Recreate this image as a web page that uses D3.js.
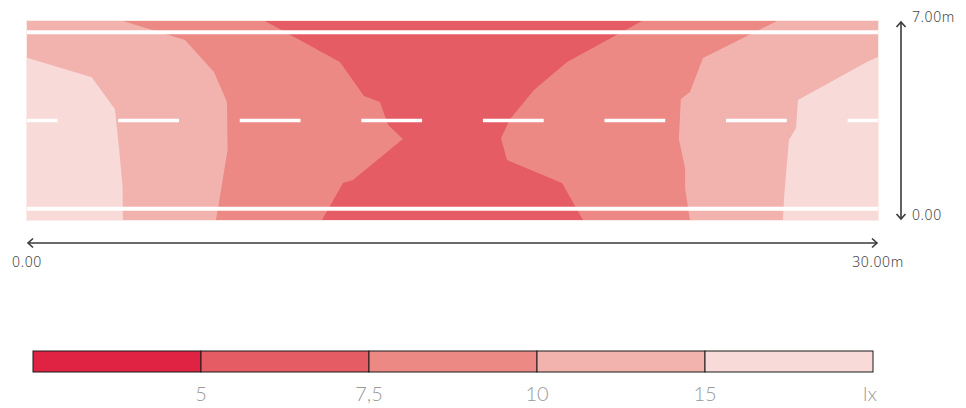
<!DOCTYPE html>
<html>
<head>
<meta charset="utf-8">
<script src="https://cdn.jsdelivr.net/npm/d3@7"></script>
<style>
  html, body { margin: 0; padding: 0; background: #ffffff; }
  svg { display: block; }
</style>
</head>
<body>
<svg id="chart" width="966" height="408"></svg>
<script>
// ---- Data (metres / lux) ----
const roadLength = 30;   // m
const roadWidth = 7;     // m
const bandColors = ["#e02342", "#e55c64", "#ec8984", "#f2b3ae", "#f8dbd8"];
const legendLabels = ["5", "7,5", "10", "15", "lx"];
const xAxisLabels = ["0.00", "30.00m"];
const yAxisLabels = ["0.00", "7.00m"];

// Isolux boundary lines, [x m, y m], from top edge to bottom edge
const iso15Left  = [[0, 5.71], [2.28, 5.02], [3.10, 3.90], [3.25, 2.46], [3.37, 1.16], [3.38, 0]];
const iso15Right = [[30, 5.73], [29.61, 5.56], [27.18, 4.22], [27.11, 3.24], [26.86, 2.81], [26.69, 0.81], [26.65, 0]];
const iso10Left  = [[3.38, 7], [5.57, 6.33], [6.59, 5.21], [7.05, 4.15], [7.07, 2.46], [6.80, 0.81], [6.66, 0]];
const iso10Right = [[26.44, 7], [23.83, 5.70], [23.37, 4.50], [23.05, 4.26], [22.98, 2.85], [23.20, 1.83], [23.20, 1.13], [23.37, 0]];
const iso75Left  = [[8.39, 7], [11.03, 5.56], [11.88, 4.36], [12.44, 4.15], [12.73, 3.34], [13.25, 2.85], [11.49, 1.41], [11.14, 1.30], [10.40, 0]];
const iso75Right = [[21.68, 7], [19.04, 5.56], [17.87, 4.57], [17.03, 3.55], [16.71, 2.88], [16.92, 2.11], [18.86, 1.30], [19.60, 0]];

// Road markings (m)
const edgeLinesY = [0.4, 6.6];
const centreLineY = 3.5;
const dashCentres = [0, 30/7, 60/7, 90/7, 120/7, 150/7, 180/7, 30];
const dashLength = 15/7;

// ---- Drawing ----
const svg = d3.select("#chart");
const x = d3.scaleLinear().domain([0, roadLength]).range([27, 878]);
const y = d3.scaleLinear().domain([0, roadWidth]).range([220, 21]);

const defs = svg.append("defs");
defs.append("clipPath").attr("id", "roadClip")
  .append("rect")
  .attr("x", x(0)).attr("y", y(roadWidth))
  .attr("width", x(roadLength) - x(0)).attr("height", y(0) - y(roadWidth));

const map = svg.append("g").attr("clip-path", "url(#roadClip)");

// base: lightest band
map.append("rect")
  .attr("x", x(0)).attr("y", y(roadWidth))
  .attr("width", x(roadLength) - x(0)).attr("height", y(0) - y(roadWidth))
  .attr("fill", bandColors[4]);

const line = d3.line().x(d => x(d[0])).y(d => y(d[1]));

function region(leftB, rightB) {
  const pts = [];
  if (leftB[0][1] < roadWidth) pts.push([0, roadWidth]);
  leftB.forEach(p => pts.push(p));
  rightB.slice().reverse().forEach(p => pts.push(p));
  if (rightB[0][1] < roadWidth) pts.push([roadLength, roadWidth]);
  return line(pts) + "Z";
}

const regions = [
  { path: region(iso15Left, iso15Right), color: bandColors[3] },
  { path: region(iso10Left, iso10Right), color: bandColors[2] },
  { path: region(iso75Left, iso75Right), color: bandColors[1] }
];
map.selectAll("path.band").data(regions).join("path")
  .attr("class", "band")
  .attr("d", d => d.path)
  .attr("fill", d => d.color);

// edge lines
map.selectAll("line.edge").data(edgeLinesY).join("line")
  .attr("class", "edge")
  .attr("x1", x(0)).attr("x2", x(roadLength))
  .attr("y1", d => y(d)).attr("y2", d => y(d))
  .attr("stroke", "#ffffff").attr("stroke-width", 4);

// centre dashes
map.selectAll("line.dash").data(dashCentres).join("line")
  .attr("class", "dash")
  .attr("x1", d => x(d - dashLength / 2)).attr("x2", d => x(d + dashLength / 2))
  .attr("y1", y(centreLineY)).attr("y2", y(centreLineY))
  .attr("stroke", "#ffffff").attr("stroke-width", 3.5);

// outline of road area
svg.append("rect")
  .attr("x", x(0) - 0.5).attr("y", y(roadWidth) - 0.5)
  .attr("width", x(roadLength) - x(0) + 1).attr("height", y(0) - y(roadWidth) + 1)
  .attr("fill", "none").attr("stroke", "#fbecea").attr("stroke-width", 1);

// ---- dimension arrows ----
const axisColor = "#3a3a3a";
const arrowG = svg.append("g").attr("stroke", axisColor).attr("fill", "none").attr("stroke-width", 1.6);
const ax = 901, hy = 243;
arrowG.append("line").attr("x1", ax).attr("x2", ax).attr("y1", y(roadWidth) + 1).attr("y2", y(0) - 1);
arrowG.append("path").attr("d", `M${ax - 4.5},${y(roadWidth) + 6} L${ax},${y(roadWidth) + 1} L${ax + 4.5},${y(roadWidth) + 6}`);
arrowG.append("path").attr("d", `M${ax - 4.5},${y(0) - 6} L${ax},${y(0) - 1} L${ax + 4.5},${y(0) - 6}`);
arrowG.append("line").attr("x1", x(0) + 1).attr("x2", x(roadLength) - 1).attr("y1", hy).attr("y2", hy);
arrowG.append("path").attr("d", `M${x(0) + 6},${hy - 4.5} L${x(0) + 1},${hy} L${x(0) + 6},${hy + 4.5}`);
arrowG.append("path").attr("d", `M${x(roadLength) - 6},${hy - 4.5} L${x(roadLength) - 1},${hy} L${x(roadLength) - 6},${hy + 4.5}`);

const labelFont = "'Noto Sans', 'DejaVu Sans', sans-serif";
svg.append("g").selectAll("text").data(xAxisLabels).join("text")
  .attr("x", (d, i) => x(i === 0 ? 0 : roadLength))
  .attr("y", 262)
  .attr("dy", "0.35em")
  .attr("text-anchor", "middle")
  .attr("font-family", labelFont).attr("font-size", 14).attr("font-weight", 300)
  .attr("letter-spacing", 0.6)
  .attr("fill", "#444")
  .text(d => d);

svg.append("g").selectAll("text").data(yAxisLabels).join("text")
  .attr("x", 912)
  .attr("y", (d, i) => i === 0 ? 215 : 17)
  .attr("dy", "0.35em")
  .attr("text-anchor", "start")
  .attr("font-family", labelFont).attr("font-size", 14).attr("font-weight", 300)
  .attr("letter-spacing", 0.6)
  .attr("fill", "#444")
  .text(d => d);

// ---- legend ----
const lx = d3.scaleLinear().domain([0, bandColors.length]).range([33, 873]);
const legend = svg.append("g");
legend.selectAll("rect").data(bandColors).join("rect")
  .attr("x", (d, i) => lx(i)).attr("y", 351)
  .attr("width", (d, i) => lx(i + 1) - lx(i)).attr("height", 21)
  .attr("fill", d => d)
  .attr("stroke", "#1a1a1a").attr("stroke-width", 1);

legend.selectAll("text").data(legendLabels).join("text")
  .attr("x", (d, i) => i < legendLabels.length - 1 ? lx(i + 1) : lx(bandColors.length) - 3)
  .attr("y", 394)
  .attr("dy", "0.35em")
  .attr("text-anchor", "middle")
  .attr("font-family", "Lato, 'Open Sans', sans-serif")
  .attr("font-weight", 300)
  .attr("font-size", 20)
  .attr("fill", "#9a9a9a")
  .text(d => d);
</script>
</body>
</html>
